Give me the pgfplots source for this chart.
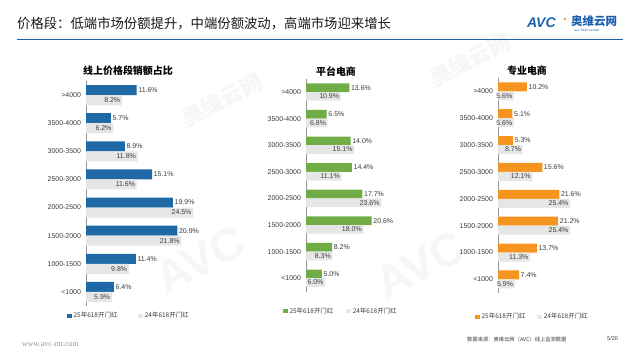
\documentclass[border=0pt]{standalone}
\usepackage{pgfplots}
\pgfplotsset{compat=1.18}
\usepackage{pgfplotstable}
\usepackage{fontspec}
\setmainfont{Liberation Sans}
\newfontfamily\cjk{Noto Sans CJK SC}
\newfontfamily\serifw{Liberation Serif}
\definecolor{avcblue}{RGB}{31,106,166}
\definecolor{logoblue}{RGB}{28,96,176}
\definecolor{avcgreen}{RGB}{112,173,71}
\definecolor{avcorange}{RGB}{245,148,30}
\definecolor{bargray}{RGB}{230,230,230}
\definecolor{txt}{RGB}{60,60,60}
\definecolor{axisgray}{RGB}{150,150,150}
\definecolor{wm}{RGB}{246,246,246}

% idx: 0 = <1000 ... 7 = >4000 ; a = 25年, b = 24年
\pgfplotstableread{
idx a b
0 6.4 5.9
1 11.4 9.8
2 20.9 21.8
3 19.9 24.5
4 15.1 11.6
5 8.9 11.8
6 5.7 6.2
7 11.6 8.2
}\tabA
\pgfplotstableread{
idx a b
0 5.0 6.0
1 8.2 8.3
2 20.6 18.0
3 17.7 23.6
4 14.4 11.1
5 14.0 15.1
6 6.5 6.8
7 13.6 10.9
}\tabB
\pgfplotstableread{
idx a b
0 7.4 5.9
1 13.7 11.3
2 21.2 25.4
3 21.6 25.4
4 15.6 12.1
5 5.3 8.7
6 5.1 5.6
7 10.2 5.6
}\tabC

\pgfplotsset{
 panel/.style={
  scale only axis, xbar, xmin=0, xmax=28, ymin=-0.5, ymax=7.5,
  axis x line=none, axis y line*=left,
  y axis line style={draw=axisgray, line width=0.7bp},
  ytick={0,...,7},
  yticklabels={{<1000},{1000-1500},{1500-2000},{2000-2500},{2500-3000},{3000-3500},{3500-4000},{>4000}},
  major tick length=0pt, ytick style={draw=none},
  yticklabel style={font=\fontsize{7}{8}\selectfont, text=txt, xshift=-1.5bp},
  point meta=x, clip=false,
  legend columns=2,
  legend style={draw=none, fill=none, font=\cjk\fontsize{6.5}{7}\selectfont, text=txt, anchor=west, inner sep=0pt},
  legend image code/.code={\fill[##1] (0bp,-2.2bp) rectangle (4.4bp,2.2bp);},
 },
 vallab/.style={
  nodes near coords={\pgfmathprintnumber[fixed,fixed zerofill,precision=1,assume math mode=true]{\pgfplotspointmeta}\%},
  nodes near coords style={font=\fontsize{7}{8}\selectfont, text=txt, inner sep=1.5bp}},
}

\begin{document}
\begin{tikzpicture}
\path[use as bounding box, fill=white] (0,0) rectangle (640bp,-360bp);

% faint watermark
\begin{scope}[text=wm]
\node[rotate=28] at (200bp,-260bp) {\fontsize{46}{46}\selectfont\bfseries AVC};
\node[rotate=28] at (222bp,-100bp) {\cjk\fontsize{22}{22}\selectfont\bfseries 奥维云网};
\node[rotate=28] at (420bp,-265bp) {\fontsize{46}{46}\selectfont\bfseries AVC};
\node[rotate=28] at (470bp,-60bp) {\cjk\fontsize{22}{22}\selectfont\bfseries 奥维云网};
\end{scope}

% header
\node[anchor=west, inner sep=0pt, text={rgb,255:red,25;green,25;blue,25}] at (17bp,-24bp) {\cjk\fontsize{13.4}{14}\selectfont 价格段：低端市场份额提升，中端份额波动，高端市场迎来增长};
\draw[logoblue, line width=1.5bp] (17bp,-39.5bp) -- (623bp,-39.5bp);
\node[anchor=west, inner sep=0pt, text=logoblue] at (527bp,-23bp) {\fontsize{14}{14}\selectfont\bfseries\itshape AVC};
\fill[avcorange] (565bp,-19bp) circle (1.3bp);
\node[anchor=west, inner sep=0pt, text=logoblue] at (571bp,-21.5bp) {\cjk\fontsize{11.5}{12}\selectfont\bfseries 奥维云网};
\node[anchor=west, inner sep=0pt, text=logoblue] at (574bp,-30bp) {\fontsize{3}{3}\selectfont ALL VIEW CLOUD};

% panel titles
\node[text=black] at (128bp,-71bp) {\cjk\fontsize{10}{11}\selectfont\bfseries 线上价格段销额占比};
\node[text=black] at (336bp,-72bp) {\cjk\fontsize{10}{11}\selectfont\bfseries 平台电商};
\node[text=black] at (527bp,-71bp) {\cjk\fontsize{10}{11}\selectfont\bfseries 专业电商};

% panel 1
\begin{axis}[panel, at={(86bp,-306bp)}, anchor=south west, width=122.4bp, height=225bp,
  legend style={at={(axis description cs:-0.155,-0.044)}, /tikz/every even column/.append style={column sep=19bp}}]
\addplot[draw=none, fill=avcblue, bar width=10bp, bar shift=5bp, vallab, nodes near coords align={horizontal}] table[x=a, y=idx]{\tabA};
\addplot[draw=none, fill=bargray, bar width=10bp, bar shift=-5bp, vallab, nodes near coords style={anchor=east}] table[x=b, y=idx]{\tabA};
\legend{25年618开门红,24年618开门红}
\end{axis}

% panel 2
\begin{axis}[panel, at={(306bp,-291.5bp)}, anchor=south west, width=89.3bp, height=212.8bp,
  legend style={at={(axis description cs:-0.258,-0.092)}, /tikz/every even column/.append style={column sep=11bp}}]
\addplot[draw=none, fill=avcgreen, bar width=8.7bp, bar shift=4.35bp, vallab, nodes near coords align={horizontal}] table[x=a, y=idx]{\tabB};
\addplot[draw=none, fill=bargray, bar width=8.7bp, bar shift=-4.35bp, vallab, nodes near coords style={anchor=east}] table[x=b, y=idx]{\tabB};
\legend{25年618开门红,24年618开门红}
\end{axis}

% panel 3
\begin{axis}[panel, at={(498bp,-292.9bp)}, anchor=south west, width=79.5bp, height=215bp,
  legend style={at={(axis description cs:-0.289,-0.112)}, /tikz/every even column/.append style={column sep=10bp}}]
\addplot[draw=none, fill=avcorange, bar width=9bp, bar shift=4.5bp, vallab, nodes near coords align={horizontal}] table[x=a, y=idx]{\tabC};
\addplot[draw=none, fill=bargray, bar width=9bp, bar shift=-4.5bp, vallab, nodes near coords style={anchor=east}] table[x=b, y=idx]{\tabC};
\legend{25年618开门红,24年618开门红}
\end{axis}

% footer
\node[anchor=west, inner sep=0pt, text=txt] at (467bp,-339bp) {\cjk\fontsize{5.3}{6}\selectfont 数据来源：奥维云网（AVC）线上监测数据};
\node[anchor=west, inner sep=0pt, text=txt] at (607bp,-339bp) {\fontsize{5.5}{6}\selectfont 5/20};
\node[anchor=west, inner sep=0pt, text={rgb,255:red,150;green,150;blue,150}] at (22bp,-345bp) {\serifw\fontsize{8}{9}\selectfont www.avc-mr.com};
\end{tikzpicture}
\end{document}
